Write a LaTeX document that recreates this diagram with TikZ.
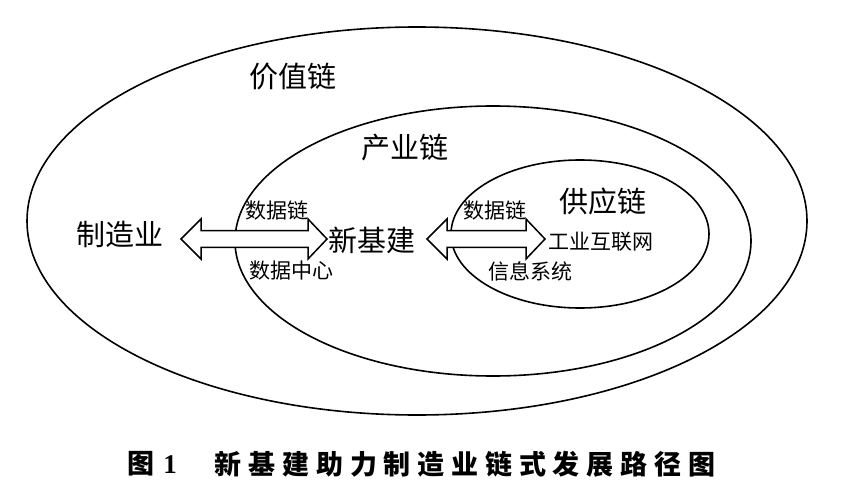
\documentclass[tikz,border=0pt]{standalone}
\usepackage{fontspec}
\setmainfont{Liberation Serif}
\newfontfamily\cjk{Noto Sans CJK SC}
\usetikzlibrary{calc}
\tikzset{
  ring/.style={draw=black, line width=1.6pt},
  hollow/.style={draw=black, fill=white, line width=1.5pt, line join=miter},
  biglabel/.style={font=\cjk\fontsize{29}{29}\selectfont, inner sep=0pt},
  smalllabel/.style={font=\cjk\fontsize{21}{21}\selectfont, inner sep=0pt},
  captext/.style={font=\cjk\bfseries\fontsize{27}{27}\selectfont, inner sep=0pt},
}
\newcommand\hollowarrow[3]{%
  \draw[hollow] (#1,#3) -- (#1+20,#3-20) -- (#1+20,#3-8.3) -- (#2-19,#3-8.3)
    -- (#2-19,#3-20) -- (#2,#3) -- (#2-19,#3+20) -- (#2-19,#3+8.3)
    -- (#1+20,#3+8.3) -- (#1+20,#3+20) -- cycle;}
\begin{document}
\begin{tikzpicture}[x=1pt,y=-1pt]
\useasboundingbox (0,0) rectangle (857,503);
% ellipses
\draw[ring] (417,221) ellipse [x radius=390pt, y radius=194pt];
\draw[ring] (493,241) ellipse [x radius=258pt, y radius=135pt];
\draw[ring] (580,234) ellipse [x radius=129pt, y radius=74pt];
% hollow double arrows
\hollowarrow{181}{327}{239}
\hollowarrow{427}{545}{239}
\coordinate (a1w) at (181,239);
\coordinate (a1e) at (327,239);
\coordinate (a2w) at (427,239);
\coordinate (a2e) at (545,239);
% labels
\node[biglabel] (vc) at (293,77) {价值链};
\node[biglabel] (ic) at (405,148) {产业链};
\node[biglabel] (sc) at (603,201) {供应链};
\node[biglabel] (mf) at (120,234) {制造业};
\node[biglabel] (nb) at (372,240) {新基建};
\node[smalllabel] (d1) at (277,211) {数据链};
\node[smalllabel] (dc) at (291,271) {数据中心};
\node[smalllabel] (d2) at (495,211) {数据链};
\node[smalllabel] (ii) at (601,242) {工业互联网};
\node[smalllabel] (is) at (530,271) {信息系统};
% caption
\node[captext] (capno) at (152,464) {图\kern9pt{\rmfamily\bfseries 1}};
\node[captext] (cap) at (465,464) {新\kern6.8pt 基\kern6.8pt 建\kern6.8pt 助\kern6.8pt 力\kern6.8pt 制\kern6.8pt 造\kern6.8pt 业\kern6.8pt 链\kern6.8pt 式\kern6.8pt 发\kern6.8pt 展\kern6.8pt 路\kern6.8pt 径\kern6.8pt 图};
\end{tikzpicture}
\end{document}
